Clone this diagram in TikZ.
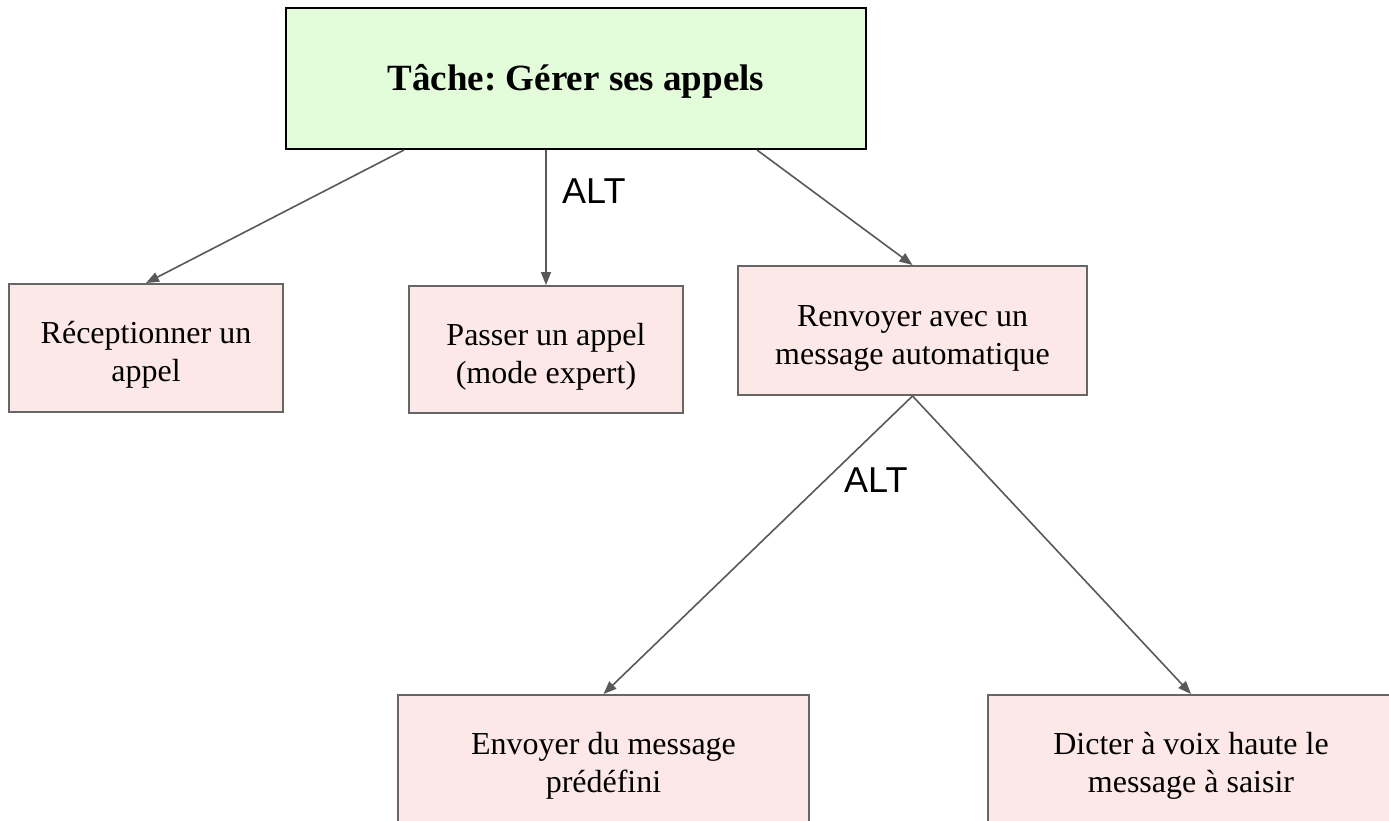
\documentclass[tikz,border=0pt]{standalone}
\usepackage{fontspec}
\setmainfont{Liberation Serif}
\newfontfamily\altfont{Liberation Sans}
\usetikzlibrary{arrows.meta}
\definecolor{topfill}{HTML}{E3FCDA}
\definecolor{boxfill}{HTML}{FDE8E8}
\definecolor{edgegray}{HTML}{666666}
\definecolor{arrowgray}{HTML}{595959}
\newcommand\lowtext[2][7pt]{\raisebox{-#1}[\height][\depth]{\begin{tabular}{@{}c@{}}#2\end{tabular}}}
\tikzset{
  taskbox/.style={draw=edgegray, line width=2pt, fill=boxfill, inner sep=0pt,
    align=center, font=\fontsize{32}{38}\selectfont\frenchspacing},
  titlebox/.style={draw=black, line width=2pt, fill=topfill, inner sep=0pt,
    align=center, font=\fontsize{37}{42}\selectfont\bfseries\frenchspacing},
  conn/.style={draw=arrowgray, line width=1.6pt, -{Triangle[length=13pt,width=10pt]}},
  altlabel/.style={inner sep=0pt, anchor=base west, font=\altfont\fontsize{36}{40}\selectfont}
}
\begin{document}
\begin{tikzpicture}[x=1pt,y=-1pt]
\useasboundingbox (0,0) rectangle (1389,820);
\clip (0,0) rectangle (1389,820);
\fill[white] (0,0) rectangle (1389,820);

\node[titlebox, minimum width=580pt, minimum height=141pt] (top) at (576,78.5) {\lowtext[4pt]{Tâche: Gérer ses appels}};
\node[taskbox, minimum width=274pt, minimum height=128pt] (rec) at (146,348) {\lowtext{Réceptionner un\\appel}};
\node[taskbox, minimum width=274pt, minimum height=127pt] (pas) at (546,349.5) {\lowtext{Passer un appel\\(mode expert)}};
\node[taskbox, minimum width=349pt, minimum height=129pt] (ren) at (912.5,330.5) {\lowtext{Renvoyer avec un\\message automatique}};
\node[taskbox, minimum width=411pt, minimum height=128pt] (env) at (603.5,759) {\lowtext{Envoyer du message\\prédéfini}};
\node[taskbox, minimum width=406pt, minimum height=128pt] (dic) at (1191,759) {\lowtext{Dicter à voix haute le\\message à saisir}};

\coordinate (s1) at ([xshift=-172pt]top.south);
\coordinate (s2) at ([xshift=-30pt]top.south);
\coordinate (s3) at ([xshift=181pt]top.south);

\draw[conn] (s1) -- (rec.north);
\draw[conn] (s2) -- (pas.north);
\draw[conn] (s3) -- (ren.north);
\draw[conn] (ren.south) -- (env.north);
\draw[conn] (ren.south) -- (dic.north);

\node[altlabel] (alt1) at (562,203) {ALT};
\node[altlabel] (alt2) at (844,492) {ALT};
\end{tikzpicture}
\end{document}
